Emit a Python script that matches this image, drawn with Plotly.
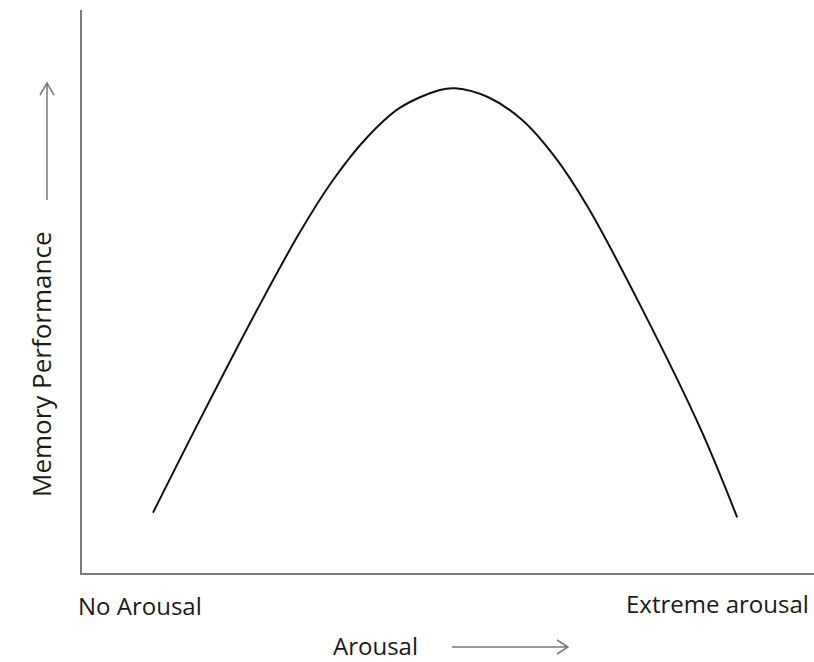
import plotly.graph_objects as go

# Curve (arousal 0-100, memory performance 0-100)
arousal = [9.7, 16.1, 23.9, 29.8, 34.3, 38.9, 43.4, 48.9, 51.0,
           55.5, 60.1, 64.6, 69.1, 76.6, 84.4, 89.5]
performance = [10.7, 27.2, 46.7, 60.6, 69.8, 77.3, 82.6, 85.8, 86.1,
               84.5, 80.5, 73.9, 65.0, 46.7, 25.9, 9.9]

x_low_label = "No Arousal"
x_high_label = "Extreme arousal"
x_title = "Arousal"
y_title = "Memory Performance"

W, H = 814, 662
L, R, T, B = 82, 0, 10, 89
pw, ph = W - L - R, H - T - B


def px(x):
    return (x - L) / pw


def py(y):
    return (H - B - y) / ph


FONT = "Open Sans"
TXT = "#1a1a1a"
GRAY = "#7a7a7a"

fig = go.Figure()
fig.add_trace(go.Scatter(x=arousal, y=performance, mode="lines",
                         line=dict(color="#111111", width=2, shape="spline", smoothing=1.0),
                         hoverinfo="skip", showlegend=False))

fig.update_xaxes(range=[0, 100], showline=True, linecolor=GRAY, linewidth=2,
                 showgrid=False, zeroline=False, showticklabels=False, ticks="")
fig.update_yaxes(range=[0, 100], showline=True, linecolor=GRAY, linewidth=2,
                 showgrid=False, zeroline=False, showticklabels=False, ticks="")

annos = [
    dict(text=x_low_label, x=px(140), y=py(605), size=24),
    dict(text=x_high_label, x=px(717), y=py(603), size=24),
    dict(text=x_title, x=px(375), y=py(645), size=24),
    dict(text=y_title, x=px(41), y=py(364), textangle=-90, size=26),
]
for a in annos:
    size = a.pop("size")
    fig.add_annotation(xref="paper", yref="paper", showarrow=False,
                       xanchor="center", yanchor="middle", borderpad=0,
                       font=dict(family=FONT, size=size, color=TXT), **a)

# Arrows (open chevron heads)
ax0, ax1, ay = px(452), px(568), py(647)
hx = 11 / pw
hy = 7 / ph
fig.add_shape(type="path", xref="paper", yref="paper",
              path=f"M {ax0},{ay} L {ax1},{ay} M {ax1 - hx},{ay + hy} L {ax1},{ay} L {ax1 - hx},{ay - hy}",
              line=dict(color=GRAY, width=1.5))
vx, vy0, vy1 = px(47), py(200), py(83)
hx2 = 7 / pw
hy2 = 12 / ph
fig.add_shape(type="path", xref="paper", yref="paper",
              path=f"M {vx},{vy0} L {vx},{vy1} M {vx - hx2},{vy1 - hy2} L {vx},{vy1} L {vx + hx2},{vy1 - hy2}",
              line=dict(color=GRAY, width=1.5))

fig.update_layout(width=W, height=H, margin=dict(l=L, r=R, t=T, b=B),
                  paper_bgcolor="white", plot_bgcolor="white", showlegend=False)

fig.write_html("out.html", config={"displayModeBar": False},
               post_script="document.body.style.margin='0';document.body.style.overflow='hidden';")
